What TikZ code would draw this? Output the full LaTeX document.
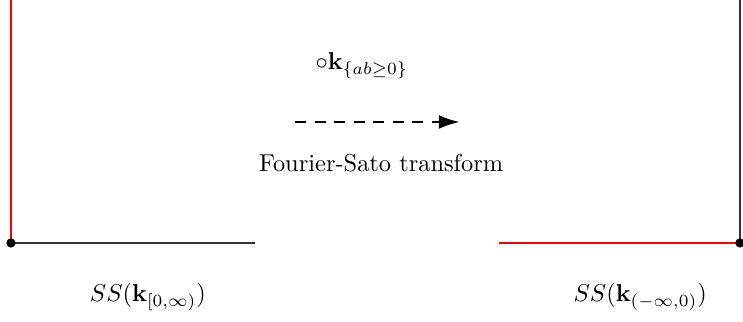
\documentclass[tikz,border=0pt]{standalone}
\usepackage{amsmath}
\usepackage{amssymb}
\usepackage{tikz}
\usetikzlibrary{arrows.meta}

\begin{document}
\begin{tikzpicture}[ray/.style={line width=0.9pt}]
			\useasboundingbox (0,0) rectangle (10.7,4.637);
			% left half-line
			\coordinate (L0) at (0.158,1.138);
			\coordinate (Ltop) at (0.158,4.637);
			\coordinate (Lend) at (3.672,1.138);
			\draw[ray, red] (L0) -- (Ltop);
			\draw[ray, black!80] (L0) -- (Lend);
			\fill (L0) circle (1.9pt);
			% right half-line
			\coordinate (R0) at (10.656,1.138);
			\coordinate (Rtop) at (10.656,4.637);
			\coordinate (Rend) at (7.186,1.138);
			\draw[ray, black!80] (R0) -- (Rtop);
			\draw[ray, red] (R0) -- (Rend);
			\fill (R0) circle (1.9pt);
			% labels
			\node (ssL) at (2.13,0.36) {\(SS(\mathbf{k}_{[0,\infty)})\)};
			\node (ssR) at (9.22,0.36) {\(SS(\mathbf{k}_{(-\infty,0)})\)};
			\node (kab) at (5.21,3.69) {\(\circ\mathbf{k}_{\{ab\geq 0\}}\)};
			\coordinate (A) at (4.25,2.88);
			\coordinate (B) at (6.62,2.88);
			\draw[line width=0.9pt, dash pattern=on 4.5pt off 3.5pt, -{Latex[length=3mm,width=2mm]}] (A) -- (B);
			\node (fs) at (5.49,2.29) {Fourier-Sato transform};
		\end{tikzpicture}
\end{document}
